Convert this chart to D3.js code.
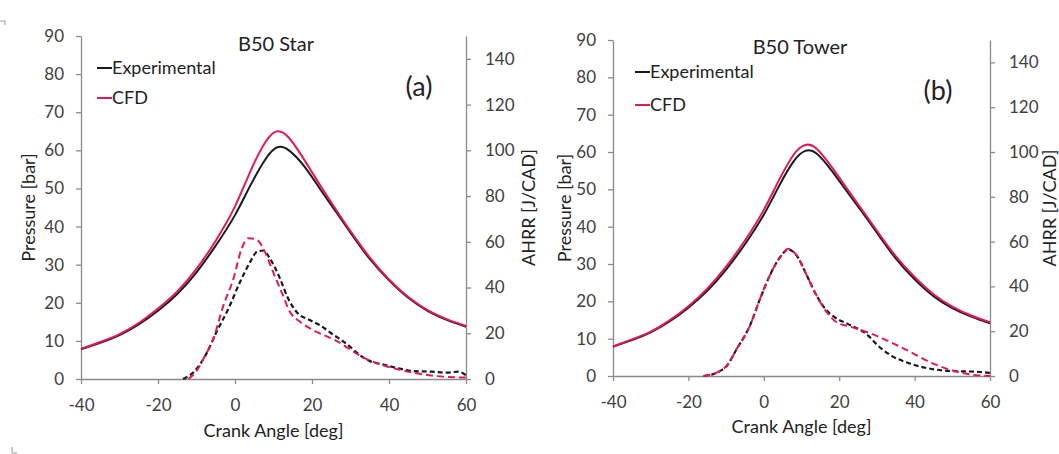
<!DOCTYPE html>
<html>
<head>
<meta charset="utf-8">
<script src="https://cdn.jsdelivr.net/npm/d3@7"></script>
<style>
  body { margin: 0; background: #fff; }
  text { font-family: Lato, "Open Sans", sans-serif; }
</style>
</head>
<body>
<div id="graph"></div>
<script>
const width = 1059,
  height = 454;

// crank angle grid for the pressure traces
const pAngle = [-40, -35, -30, -25, -20, -15, -10, -5, 0, 4, 8, 11, 14, 18, 22, 26, 30, 35, 40, 45, 50, 55, 60];

// (a) B50 Star, pressure [bar]
const pExpA = [7.8, 9.5, 11.5, 14.3, 17.9, 22.3, 28.0, 35.0, 43.0, 50.8, 57.8, 60.8, 60.0, 55.8, 50, 44.2, 38.4, 31.5, 25.9, 21.3, 17.9, 15.5, 13.7];
const pCfdA = [7.9, 9.7, 11.8, 14.7, 18.5, 23, 28.9, 36.3, 45.3, 54.5, 62.3, 65, 63.3, 57.5, 51, 44.8, 38.8, 31.9, 26.1, 21.5, 18.1, 15.7, 13.9];

// (b) B50 Tower, pressure [bar]
const pExpB = [7.85, 9.6, 11.7, 14.6, 18.3, 22.8, 28.5, 35.3, 43.2, 50.8, 57.6, 60.3, 59.6, 55, 49.5, 44, 38.4, 31.5, 25.9, 21.4, 18.2, 15.9, 14.1];
const pCfdB = [7.9, 9.8, 11.9, 14.9, 18.7, 23.4, 29.3, 36.3, 44.5, 52.4, 59.4, 61.9, 60.9, 56, 50.3, 44.6, 38.9, 32.1, 26.5, 21.9, 18.6, 16.2, 14.4];

// (a) AHRR [J/CAD]
const hExpADeg = [-13.5, -10.4, -7.4, -4.8, -1.7, 1.3, 3.9, 5.6, 7.4, 9.1, 11.7, 13.8, 16, 19.5, 22.1, 25, 29.4, 32, 35.5, 38, 42.4, 46, 51.1, 55, 58, 60];
const hExpA = [0, 3.6, 11.2, 20.6, 30.8, 42.4, 51.1, 55.5, 56.2, 52.6, 43.9, 35.2, 29.3, 25.7, 23.5, 20, 14.8, 11, 7.5, 6.5, 4.7, 3.5, 3.2, 2.8, 3.2, 1.6];
const hCfdADeg = [-12.1, -10, -8, -5.6, -3, -0.4, 1.7, 3.45, 5.6, 7.8, 9.9, 12.1, 14.3, 16.9, 20.3, 26, 33.8, 42.4, 51.1, 60];
const hCfdA = [0, 3.5, 9.5, 17.7, 32.2, 43.9, 56.9, 61.6, 61, 55.5, 46.8, 38, 29.3, 25, 21.4, 17, 9, 4.2, 1.5, 0.6];

// (b) AHRR [J/CAD]
const hExpBDeg = [-16, -12.5, -9.85, -7.2, -3.7, -1, 1.6, 4.3, 6.5, 8.7, 11.4, 14, 16.7, 19, 22, 27.7, 30, 33.9, 38, 42.8, 46, 49.8, 55, 59.5, 60];
const hExpB = [0, 1.5, 4.5, 12, 22.4, 34.4, 44.9, 53, 56.5, 53.8, 44.9, 35.9, 29.2, 26, 23.5, 18, 14, 9, 6, 3.7, 2.8, 2.2, 2, 1.5, 1];
const hCfdBDeg = [-16, -12.5, -9.85, -7.2, -3.7, -1, 1.6, 4.3, 6.5, 8.7, 11.4, 14, 16.7, 19.3, 23, 27.7, 36.6, 45.4, 54.3, 60];
const hCfdB = [0, 1.5, 4.5, 12, 22.4, 34.4, 44.9, 53, 56.8, 53.8, 44.9, 35.9, 28.5, 24, 22, 19.4, 12.7, 5.2, 0.8, 0];

const xTicks = [-40, -20, 0, 20, 40, 60];
const pTicks = [0, 10, 20, 30, 40, 50, 60, 70, 80, 90];
const hTicks = [0, 20, 40, 60, 80, 100, 120, 140];
const seriesNames = ["Experimental", "CFD"];
const titles = ["B50 Star", "B50 Tower"];
const tags = ["(a)", "(b)"];

const colExp = "#1a1a1a",
  colCfd = "#e3185a",
  axisCol = "#8a8a8a",
  textCol = "#404040";

const svg = d3.select("#graph").append("svg")
  .attr("width", width)
  .attr("height", height);

const zip = (xs, ys) => xs.map((v, i) => [v, ys[i]]);

const panels = [
  {
    left: 81, right: 466, bottom: 379, top: 36,
    title: titles[0], titleX: 276, titleY: 51,
    tag: tags[0], tagX: 419, tagY: 96,
    legX: 97, legY: 68, legGap: 30,
    pLabelX: 29, hLabelX: 529, xLabelY: 437,
    pExp: zip(pAngle, pExpA), pCfd: zip(pAngle, pCfdA),
    hExp: zip(hExpADeg, hExpA), hCfd: zip(hCfdADeg, hCfdA)
  },
  {
    left: 613, right: 990, bottom: 376, top: 40,
    title: titles[1], titleX: 800, titleY: 54,
    tag: tags[1], tagX: 938, tagY: 100,
    legX: 635, legY: 72, legGap: 33,
    pLabelX: 565, hLabelX: 1050, xLabelY: 433,
    pExp: zip(pAngle, pExpB), pCfd: zip(pAngle, pCfdB),
    hExp: zip(hExpBDeg, hExpB), hCfd: zip(hCfdBDeg, hCfdB)
  }
];

function styleAxis(g) {
  g.select(".domain").attr("stroke", axisCol).attr("stroke-width", 1.3);
  g.selectAll(".tick line").attr("stroke", axisCol).attr("stroke-width", 1.3);
  g.selectAll(".tick text")
    .attr("fill", textCol)
    .style("font-size", "17px");
}

function drawPanel(p) {
  const x = d3.scaleLinear().domain([-40, 60]).range([p.left, p.right]);
  const yP = d3.scaleLinear().domain([0, 90]).range([p.bottom, p.top]);
  const yH = d3.scaleLinear().domain([0, 150]).range([p.bottom, p.top]);

  const g = svg.append("g");

  g.append("g")
    .attr("transform", `translate(${p.left},0)`)
    .call(d3.axisLeft(yP).tickValues(pTicks).tickSize(5).tickSizeOuter(0).tickPadding(12))
    .call(styleAxis);

  g.append("g")
    .attr("transform", `translate(${p.right},0)`)
    .call(d3.axisRight(yH).tickValues(hTicks).tickSize(5).tickSizeOuter(0).tickPadding(14))
    .call(styleAxis);

  g.append("g")
    .attr("transform", `translate(0,${p.bottom})`)
    .call(d3.axisBottom(x).tickValues(xTicks).tickSize(5).tickSizeOuter(0).tickPadding(15)
      .tickFormat(d => d < 0 ? "-" + Math.abs(d) : d))
    .call(styleAxis);

  const pLine = d3.line()
    .x(d => x(d[0]))
    .y(d => yP(d[1]))
    .curve(d3.curveNatural);

  const hLine = d3.line()
    .x(d => x(d[0]))
    .y(d => yH(d[1]))
    .curve(d3.curveMonotoneX);

  // AHRR dashed traces
  g.append("path").datum(p.hExp)
    .attr("d", hLine).attr("fill", "none")
    .attr("stroke", colExp).attr("stroke-width", 2.2)
    .attr("stroke-dasharray", "5,3");
  g.append("path").datum(p.hCfd)
    .attr("d", hLine).attr("fill", "none")
    .attr("stroke", colCfd).attr("stroke-width", 2)
    .attr("stroke-dasharray", "7,4");

  // pressure solid traces
  g.append("path").datum(p.pExp)
    .attr("d", pLine).attr("fill", "none")
    .attr("stroke", colExp).attr("stroke-width", 2);
  g.append("path").datum(p.pCfd)
    .attr("d", pLine).attr("fill", "none")
    .attr("stroke", colCfd).attr("stroke-width", 2);

  // legend
  const leg = g.append("g").selectAll("g")
    .data(seriesNames)
    .join("g")
    .attr("transform", (d, i) => `translate(${p.legX},${p.legY + i * p.legGap})`);
  leg.append("line")
    .attr("x1", 0).attr("x2", 15)
    .attr("stroke", (d, i) => i ? colCfd : colExp)
    .attr("stroke-width", 2);
  leg.append("text")
    .attr("x", 15).attr("dy", "0.35em")
    .attr("fill", "#222")
    .style("font-size", "18px")
    .text(d => d);

  g.append("text")
    .attr("x", p.titleX).attr("y", p.titleY)
    .attr("text-anchor", "middle")
    .attr("fill", "#222")
    .style("font-size", "20px")
    .text(p.title);

  g.append("text")
    .attr("x", p.tagX).attr("y", p.tagY)
    .attr("text-anchor", "middle")
    .attr("fill", "#222")
    .style("font-size", "27px")
    .text(p.tag);

  // axis titles
  g.append("text")
    .attr("transform", `translate(${p.pLabelX},${(p.top + p.bottom) / 2}) rotate(-90)`)
    .attr("text-anchor", "middle").attr("dy", "0.35em")
    .attr("fill", "#222")
    .style("font-size", "18px")
    .text("Pressure [bar]");

  g.append("text")
    .attr("transform", `translate(${p.hLabelX},${(p.top + p.bottom) / 2}) rotate(-90)`)
    .attr("text-anchor", "middle").attr("dy", "0.35em")
    .attr("fill", "#222")
    .style("font-size", "18px")
    .text("AHRR [J/CAD]");

  g.append("text")
    .attr("x", (p.left + p.right) / 2).attr("y", p.xLabelY)
    .attr("text-anchor", "middle")
    .attr("fill", "#222")
    .style("font-size", "18px")
    .text("Crank Angle [deg]");
}

panels.forEach(drawPanel);

// little crop marks left over at the page corners
svg.append("path")
  .attr("d", "M0,21H5V25M12,447V453H17")
  .attr("fill", "none")
  .attr("stroke", "#999")
  .attr("stroke-width", 1);
</script>
</body>
</html>
